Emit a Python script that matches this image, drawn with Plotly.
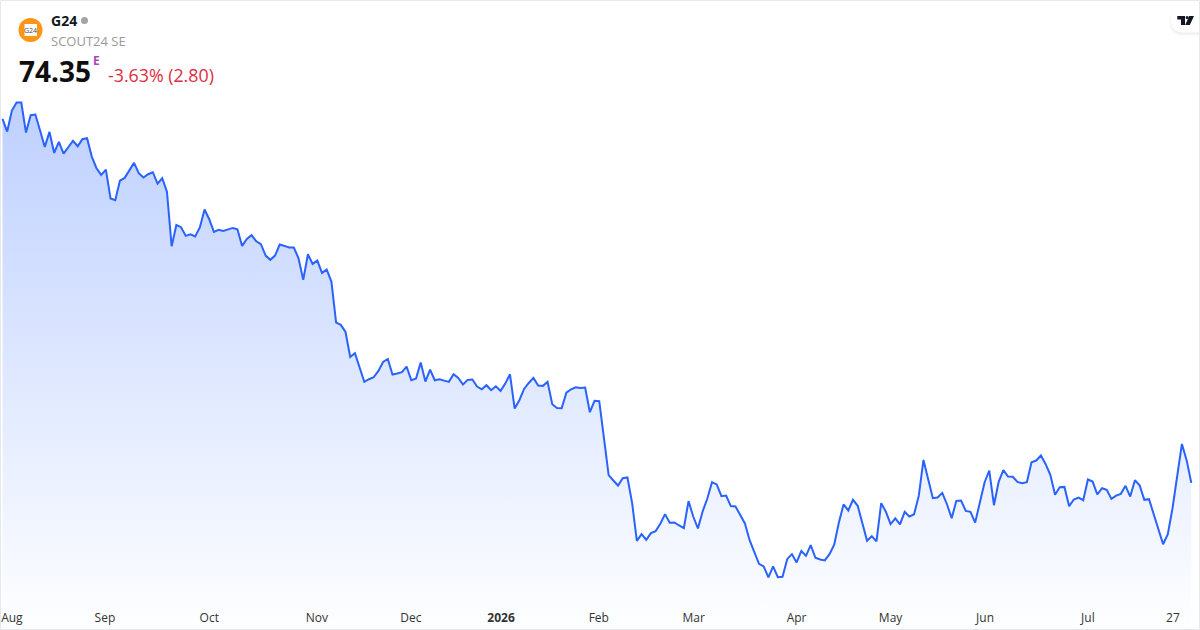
import plotly.graph_objs as go

# daily closes, one per session
closes = [
    119.23, 117.67, 120.26, 121.25, 121.25, 117.55, 119.69, 119.77, 117.80, 115.78,
    117.63, 115.04, 116.40, 114.96, 115.74, 116.52, 115.86, 116.73, 116.85, 114.59,
    113.15, 112.33, 112.99, 109.41, 109.21, 111.63, 111.96, 112.91, 113.81, 112.54,
    112.00, 112.41, 112.66, 111.26, 111.92, 110.27, 103.53, 106.16, 105.88, 104.81,
    105.01, 104.73, 105.84, 108.06, 106.86, 105.30, 105.55, 105.42, 105.63, 105.79,
    105.63, 103.57, 104.44, 104.89, 104.15, 103.78, 102.38, 101.85, 102.38, 103.74,
    103.57, 103.37, 103.37, 102.05,
    99.38, 102.54, 101.35, 101.76, 100.24, 100.65, 99.17, 94.11, 93.83, 92.96,
    89.88, 90.33, 88.57, 86.80, 87.13, 87.37, 88.15, 89.26, 89.63, 87.70,
    87.83, 87.99, 88.69, 87.00, 87.21, 89.18, 86.84, 88.32, 87.00, 87.13,
    86.96, 86.80, 87.74, 87.29, 86.47, 87.05, 87.09, 86.22, 85.89, 86.39,
    85.77, 86.26, 85.69, 86.59, 87.74, 83.51, 84.54, 85.93, 86.67, 87.29,
    86.35, 86.31, 86.80, 84.04, 83.59, 83.55, 85.48, 85.89, 86.14, 86.06,
    86.10, 83.06,
    84.46, 84.42, 79.86, 75.30, 74.64, 74.02, 74.93, 75.01, 71.85, 67.20,
    68.02, 67.33, 68.15, 68.39, 69.30, 70.49, 69.42, 69.46, 69.09, 68.76,
    72.09, 70.20, 68.72, 70.82, 72.42, 74.44, 74.15, 72.71, 72.79, 71.48,
    71.43, 70.45, 69.34, 67.28, 65.80, 64.37, 64.04, 62.68, 64.04, 62.72,
    62.76, 64.94, 65.56, 64.53, 65.93, 65.35, 66.67, 65.11, 64.90, 64.78,
    65.56, 66.71, 69.46, 71.68, 70.94, 72.26, 71.52, 69.17, 67.20, 67.78,
    67.12, 71.85, 70.78, 69.26, 69.96, 69.22,
    70.77, 70.19, 70.48, 72.74, 77.18, 74.80, 72.45, 72.54, 73.11, 71.71,
    69.99, 72.13, 72.17, 70.89, 70.77, 69.45, 72.04, 74.39, 75.87, 71.59,
    74.47, 75.91, 75.13, 75.09, 74.47, 74.30, 74.43, 76.89, 77.10, 77.72,
    76.65, 75.33, 72.87, 73.81, 73.85, 71.47, 72.29, 72.54, 72.21, 74.76,
    74.51, 72.91, 73.69, 73.48, 72.37, 72.78, 72.99, 73.98, 72.66, 74.67,
    74.06, 72.25, 72.33, 70.36, 68.63, 66.78, 68.02, 71.22, 75.13, 79.15,
    77.15, 74.35,
]
sessions = list(range(len(closes)))

tick_sessions = [2, 21.8, 44, 66.9, 86.9, 106.1, 126.9, 147.1, 169, 189, 209.1, 231, 249.1]
tick_labels = ['Aug', 'Sep', 'Oct', 'Nov', 'Dec', '<b>2026</b>', 'Feb', 'Mar', 'Apr', 'May', 'Jun', 'Jul', '27']

W, H = 1200, 630
FONT = 'Open Sans'


def fx(px):
    return px / W


def fy(px):
    return 1 - px / H


def label(px, py, text, size, color, anchor='left'):
    # py is the vertical middle of the text, in page pixels
    return dict(xref='paper', yref='paper', x=fx(px), y=fy(py), text=text, showarrow=False,
                xanchor=anchor, yanchor='middle', align='left', borderpad=0,
                font=dict(family=FONT, size=size, color=color))


def poly(points, color):
    path = 'M ' + ' L '.join(f'{fx(x):.5f},{fy(y):.5f}' for x, y in points) + ' Z'
    return dict(type='path', xref='paper', yref='paper', path=path,
                fillcolor=color, line=dict(width=0), layer='above')


def pill(x0, y0, x1, y1, color):
    # rounded on the left, square against the right edge
    r = (y1 - y0) / 2
    path = (f'M {fx(x1):.5f},{fy(y0):.5f} L {fx(x0 + r):.5f},{fy(y0):.5f} '
            f'Q {fx(x0):.5f},{fy(y0):.5f} {fx(x0):.5f},{fy(y0 + r):.5f} '
            f'Q {fx(x0):.5f},{fy(y1):.5f} {fx(x0 + r):.5f},{fy(y1):.5f} '
            f'L {fx(x1):.5f},{fy(y1):.5f} Z')
    return dict(type='path', xref='paper', yref='paper', path=path,
                fillcolor=color, line=dict(width=0), layer='above')


def oval(x0, y0, x1, y1, color):
    return dict(type='circle', xref='paper', yref='paper', x0=fx(x0), x1=fx(x1), y0=fy(y0), y1=fy(y1),
                fillcolor=color, line=dict(width=0), layer='above')


def box(x0, y0, x1, y1, color):
    return dict(type='rect', xref='paper', yref='paper', x0=fx(x0), x1=fx(x1), y0=fy(y0), y1=fy(y1),
                fillcolor=color, line=dict(width=0), layer='above')


fig = go.Figure()
fig.add_trace(go.Scatter(
    x=sessions, y=closes, mode='lines',
    line=dict(color='#2962FF', width=2),
    fill='tozeroy',
    fillcolor='rgba(41,98,255,0.1)',
    fillgradient=dict(type='vertical', start=121.3, stop=57,
                      colorscale=[[0, 'rgb(190,208,255)'], [1, 'rgb(253,254,255)']]),
    hoverinfo='skip'))

shapes = [
    # card border
    dict(type='rect', xref='paper', yref='paper', x0=fx(0.5), x1=fx(1199.5), y0=fy(0.5), y1=fy(629.5),
         line=dict(color='#E6E8EE', width=1), layer='above'),
    # logo
    oval(18.5, 18, 42.5, 42, '#FF9514'),
    box(24.5, 24, 37, 36, '#FFFFFF'),
    # status dot
    oval(81, 17, 88, 24, '#A3A3A3'),
    # attribution pill with a soft shadow
    pill(1169, 9, 1199, 36, 'rgba(0,0,0,0.015)'),
    pill(1170, 9, 1199, 35, 'rgba(0,0,0,0.02)'),
    pill(1171, 9, 1199, 34, 'rgba(0,0,0,0.03)'),
    pill(1171, 8, 1199, 32.5, '#FFFFFF'),
    poly([(1177.3, 16), (1185, 16), (1185, 25), (1181, 25), (1181, 19.6), (1177.3, 19.6)], '#131722'),
    oval(1185.6, 16, 1188.6, 19, '#131722'),
    poly([(1189.2, 16), (1194, 16), (1189.8, 25), (1185.2, 25)], '#131722'),
]

annotations = [
    label(50, 21, '<b>G24</b>', 14, '#131722'),
    label(50, 41, 'SCOUT24 SE', 13, '#999999'),
    label(18, 71, '<b>74.35</b>', 28, '#0F0F0F'),
    label(92, 61, '<b>E</b>', 12, '#AB47BC'),
    label(107, 75, '-3.63% (2.80)', 17.8, '#DB2E44'),
    label(30.7, 30, 'G24', 7, '#444444', anchor='center'),
]

fig.update_layout(
    width=W, height=H, autosize=False,
    margin=dict(l=0, r=0, t=0, b=0),
    paper_bgcolor='#FFFFFF', plot_bgcolor='#FFFFFF',
    showlegend=False,
    shapes=shapes, annotations=annotations,
    font=dict(family=FONT),
    xaxis=dict(range=[-0.53, 254.85], showgrid=False, zeroline=False, showline=False,
               tickmode='array', tickvals=tick_sessions, ticktext=tick_labels,
               ticks='', ticklabelposition='inside', ticklabelstandoff=3,
               tickfont=dict(family=FONT, size=12, color='#333333')),
    yaxis=dict(range=[56.2, 133.9], showgrid=False, zeroline=False, showline=False,
               showticklabels=False, ticks=''),
)

# the page's default body margin would push the chart off the window
fig.write_html("out.html", config=dict(displayModeBar=False),
               post_script="document.body.style.margin='0';document.body.style.overflow='hidden';")
